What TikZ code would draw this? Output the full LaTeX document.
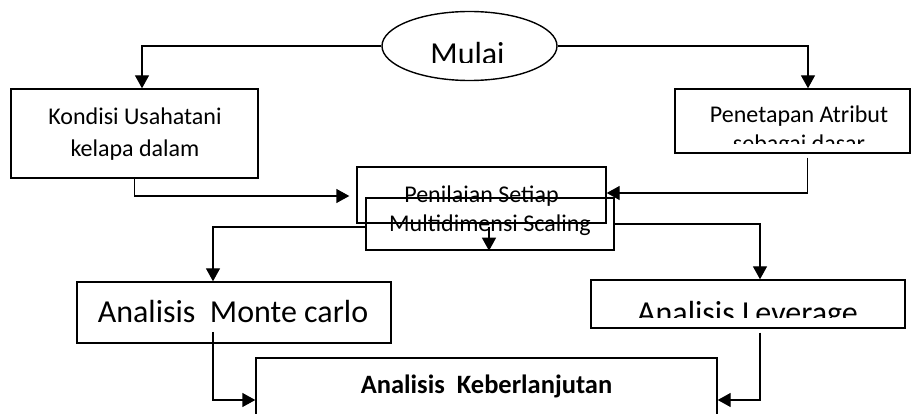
\documentclass[tikz,border=0pt]{standalone}
\usepackage{fontspec}
\setmainfont{Carlito}
\usetikzlibrary{shapes.geometric,arrows.meta}

\begin{document}
\begin{tikzpicture}[x=1pt, y=-1pt,
  kotak/.style={draw, rectangle, line width=1.4pt, inner sep=0pt},
  bulat/.style={draw, ellipse, line width=1.4pt, inner sep=0pt},
  panah/.style={line width=1.4pt, -{Triangle[length=13pt,width=14pt]}},
  teks/.style={anchor=base, inner sep=0pt, font=\fontsize{24}{29}\selectfont},
  teksbesar/.style={anchor=base, inner sep=0pt, font=\fontsize{32}{38}\selectfont}]
  \path[use as bounding box, clip] (0,0) rectangle (911,414);

  \node[bulat, minimum width=175pt, minimum height=69pt] (mulai) at (469.5,46) {};
  \begin{scope}
    \clip (382,10) rectangle (557,63);
    \node[teksbesar] (mulai-txt) at (467.5,65) {Mulai};
  \end{scope}

  \node[kotak, minimum width=247pt, minimum height=89pt] (kondisi) at (134.5,133.5) {};
  \node[teks] (kondisi-a) at (135,125) {Kondisi Usahatani};
  \node[teks] (kondisi-b) at (135,157) {kelapa dalam};
  \draw[panah] (mulai.west) -| ([xshift=7.5pt]kondisi.north);

  \node[kotak, minimum width=235pt, minimum height=64pt] (penetapan) at (792.5,121) {};
  \node[teks] (penetapan-a) at (799,123) {Penetapan Atribut};
  \begin{scope}
    \clip (675,130) rectangle (910,144);
    \node[teks] (penetapan-b) at (799,152) {sebagai dasar};
  \end{scope}
  \draw[panah] (mulai.east) -| ([xshift=15.5pt]penetapan.north);

  \node[kotak, minimum width=249pt, minimum height=56pt] (penilaian) at (481.5,195) {};
  \node[kotak, minimum width=248pt, minimum height=52pt] (multidim) at (490,224) {};
  \node[teks] (penilaian-txt) at (481.5,203) {Penilaian Setiap};
  \node[teks] (multidim-txt) at (490,232) {Multidimensi Scaling};
  \draw[panah] (kondisi.south) |- ([xshift=-7pt,yshift=-1pt]penilaian.west);
  \draw[panah] ([xshift=15pt,yshift=-4pt]penetapan.south) |- ([yshift=2pt]penilaian.east);
  \draw[panah] ([xshift=-1pt,yshift=24pt]multidim.south) -- ([xshift=-1pt]multidim.south);

  \node[kotak, minimum width=314pt, minimum height=61pt] (montecarlo) at (234,312.5) {};
  \node[teksbesar] (montecarlo-txt) at (233,323) {Analisis\ \ Monte carlo};
  \draw[panah] ([yshift=-3pt]multidim.west) -| ([xshift=-21pt]montecarlo.north);

  \node[kotak, minimum width=314pt, minimum height=48pt] (leverage) at (748,304) {};
  \begin{scope}
    \clip (591,280) rectangle (905,318);
    \node[teksbesar] (leverage-txt) at (747.5,323.5) {Analisis Leverage};
  \end{scope}
  \draw[panah] (multidim.east) -| ([xshift=12pt]leverage.north);

  \node[kotak, minimum width=461pt, minimum height=80pt] (keberlanjutan) at (486.5,398) {};
  \node[teks, font=\fontsize{26.5}{31}\selectfont\bfseries] (keberlanjutan-txt) at (486.5,393) {Analisis\ \ Keberlanjutan};
  \draw[panah] ([xshift=-21pt,yshift=-19.5pt]montecarlo.center) |- ([yshift=-2pt]keberlanjutan.west);
  \draw[panah] ([xshift=12pt,yshift=-4pt]leverage.south) |- ([yshift=-2pt]keberlanjutan.east);
\end{tikzpicture}
\end{document}
